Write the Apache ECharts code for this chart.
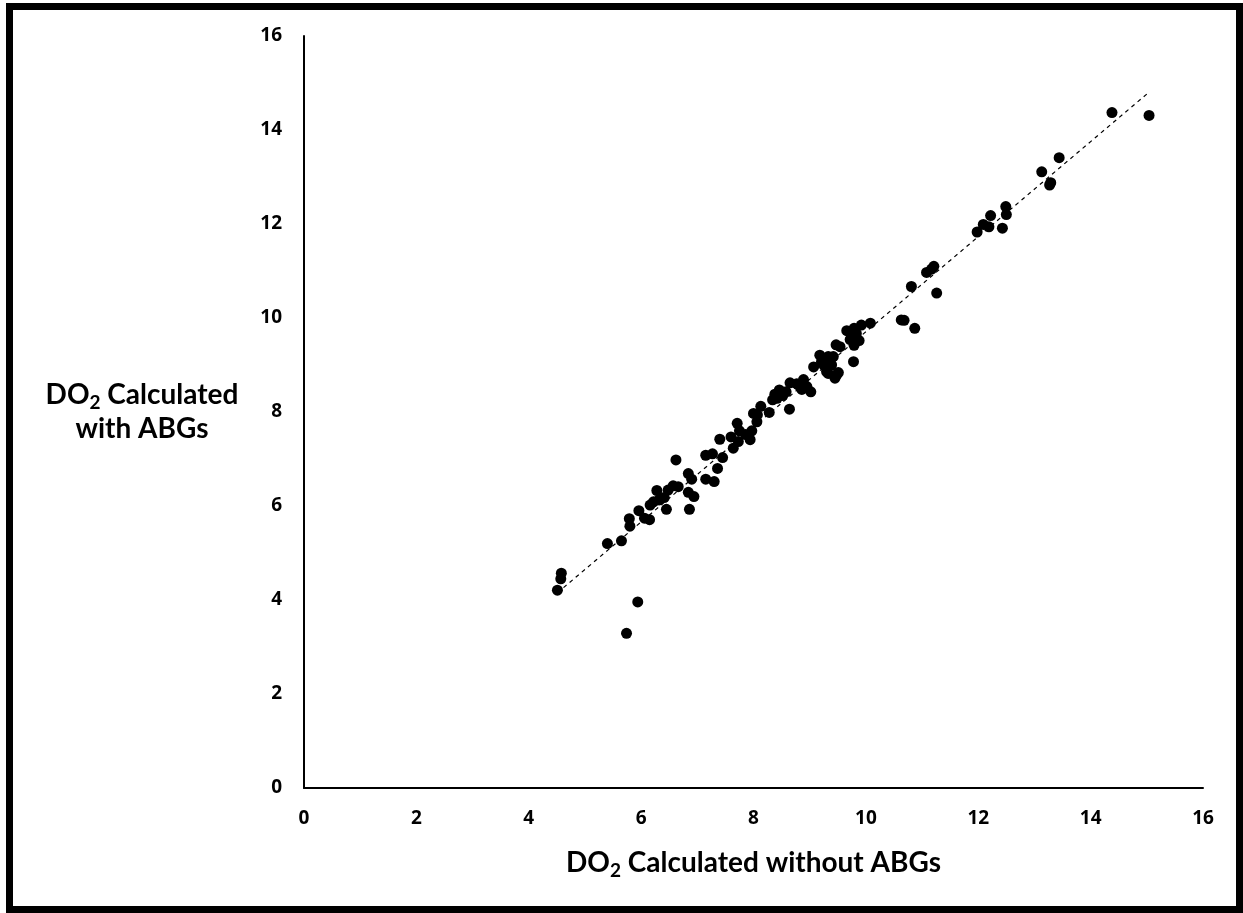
<!DOCTYPE html>
<html><head><meta charset="utf-8">
<script src="https://cdn.jsdelivr.net/npm/echarts@6/dist/echarts.min.js"></script>
<style>
html,body{margin:0;padding:0;background:#fff;}
#chart{position:absolute;left:0;top:0;width:1243px;height:913px;}
#frame{position:absolute;left:6px;top:3px;width:1237px;height:910px;border:7px solid #000;box-sizing:border-box;pointer-events:none;}
</style></head><body>
<div id="chart"></div><div id="frame"></div>
<script>
// DO2 calculated without ABGs (x) vs with ABGs (y)
const xValues = [
 4.51,4.57,4.58,5.94,5.74,5.40,5.65,5.80,5.79,5.96,6.06,6.15,6.16,6.22,6.28,6.32,6.41,6.45,6.48,6.57,6.66,6.62,6.84,6.90,6.84,6.94,6.86,
 7.15,7.27,7.36,7.15,7.30,7.40,7.45,7.60,7.64,7.71,7.75,7.73,7.86,7.94,7.97,
 8.00,8.06,8.07,8.13,8.28,8.34,8.38,8.42,8.46,8.52,8.58,8.64,8.65,8.77,8.80,8.89,8.86,8.95,9.02,9.07,9.18,9.21,9.25,9.30,9.33,9.39,9.42,9.33,9.48,9.45,9.51,9.47,9.54,9.66,9.72,9.75,9.79,9.83,9.79,9.88,9.78,9.92,10.08,10.63,10.68,10.87,
 10.81,11.08,11.17,11.21,11.26,11.98,12.09,12.19,12.22,12.43,12.49,12.50,13.13,13.27,13.29,13.44,14.38,15.04
];
const yValues = [
 4.21,4.45,4.57,3.96,3.29,5.20,5.26,5.57,5.73,5.90,5.74,5.71,6.02,6.09,6.33,6.13,6.18,5.93,6.34,6.43,6.41,6.98,6.69,6.57,6.29,6.20,5.93,
 7.08,7.11,6.80,6.57,6.52,7.42,7.03,7.47,7.23,7.76,7.60,7.37,7.52,7.41,7.60,
 7.97,7.79,7.94,8.12,7.99,8.26,8.38,8.29,8.47,8.35,8.43,8.06,8.62,8.60,8.57,8.69,8.48,8.54,8.43,8.96,9.21,9.07,9.00,8.86,8.82,9.00,9.18,9.18,8.79,8.72,8.84,9.43,9.39,9.73,9.54,9.62,9.78,9.67,9.42,9.52,9.07,9.85,9.89,9.96,9.95,9.78,
 10.67,10.97,11.04,11.10,10.53,11.83,11.99,11.94,12.18,11.91,12.37,12.20,13.11,12.83,12.88,13.41,14.37,14.31
];
const tickValues = [0,2,4,6,8,10,12,14,16];

const points = xValues.map((x,i)=>[x,yValues[i]]);
// linear trendline (least squares) over the data range
const n = points.length;
const mx = xValues.reduce((a,b)=>a+b,0)/n, my = yValues.reduce((a,b)=>a+b,0)/n;
let sxy=0,sxx=0;
for(let i=0;i<n;i++){sxy+=(xValues[i]-mx)*(yValues[i]-my);sxx+=(xValues[i]-mx)**2;}
const slope=sxy/sxx, icpt=my-slope*mx;
const xmin=Math.min(...xValues), xmax=Math.max(...xValues);
const trend=[[xmin,icpt+slope*xmin],[xmax,icpt+slope*xmax]];

const FONT='Lato';
const rich={
  t:{fontFamily:FONT,fontWeight:'bold',fontSize:28,color:'#000',lineHeight:34},
  s:{fontFamily:FONT,fontWeight:'bold',fontSize:19,color:'#000',lineHeight:14,verticalAlign:'bottom'}
};
const axisLabel={fontFamily:'Open Sans',fontWeight:'bold',fontSize:19,color:'#000'};

const chart=echarts.init(document.getElementById('chart'),null,{renderer:'canvas'});
chart.setOption({
  animation:false,
  backgroundColor:'#fff',
  grid:{left:304,right:40,top:36,bottom:125,containLabel:false},
  xAxis:{type:'value',min:0,max:16,interval:2,
    axisLine:{show:true,onZero:false,lineStyle:{color:'#000',width:2}},
    axisTick:{show:false},splitLine:{show:false},
    axisLabel:Object.assign({margin:21,formatter:v=>tickValues.includes(v)?String(v):''},axisLabel),
    name:'{t|DO}{s|2}{t| Calculated without ABGs}',nameLocation:'middle',nameGap:58,
    nameTextStyle:{rich:rich}
  },
  yAxis:{type:'value',min:0,max:16,interval:2,
    axisLine:{show:true,onZero:false,lineStyle:{color:'#000',width:2}},
    axisTick:{show:false},splitLine:{show:false},
    axisLabel:Object.assign({margin:22},axisLabel),
    name:'{t|DO}{s|2}{t| Calculated}\n{t|with ABGs}',nameLocation:'middle',nameRotate:0,nameGap:162,
    nameTextStyle:{align:'center',verticalAlign:'middle',rich:rich}
  },
  series:[
    {type:'scatter',data:points,symbol:'circle',symbolSize:11,itemStyle:{color:'#000',opacity:1},z:3},
    {type:'line',data:trend,symbol:'none',lineStyle:{color:'#000',width:1.2,type:[4,4]},z:2,silent:true}
  ]
});
</script>
</body></html>
